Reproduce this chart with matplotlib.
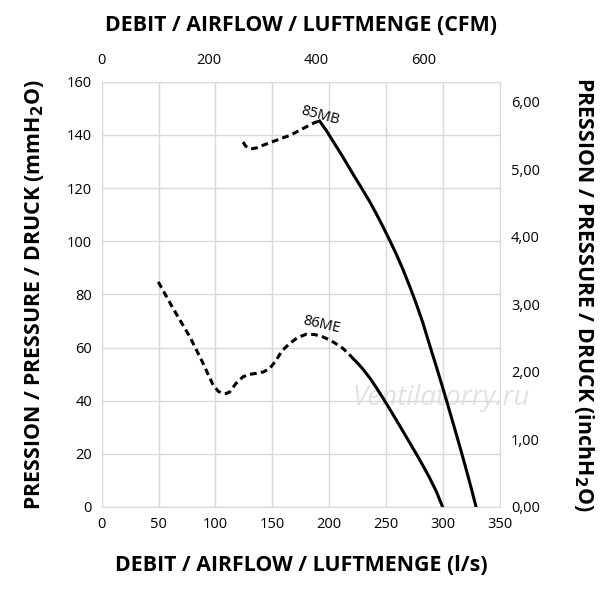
import matplotlib
matplotlib.use("Agg")
from matplotlib import pyplot as plt
from matplotlib.ticker import FuncFormatter

plt.rcParams['font.family'] = ['Open Sans', 'DejaVu Sans']

# 85MB curve (l/s, mmH2O)
mb_dash_x = [124.2, 126.5, 129.0, 132.1, 136.0, 141.8, 150.0, 158.0, 165.2, 173.0, 181.0, 187.0, 191.5]
mb_dash_y = [137.3, 135.8, 135.0, 134.8, 135.1, 136.1, 137.4, 138.7, 139.8, 141.5, 143.3, 144.6, 145.2]
mb_x = [191.5, 197.3, 204.5, 211.9, 220.5, 229.5, 235.5, 241.2, 247.0, 252.9, 258.8, 264.6, 270.4,
        276.3, 282.0, 288.0, 293.8, 299.6, 305.5, 311.4, 315.8, 320.2, 324.6, 329.0]
mb_y = [145.2, 141.7, 136.8, 131.7, 125.5, 119.2, 114.9, 110.4, 105.6, 100.5, 95.2, 89.5, 83.3,
        76.6, 69.6, 61.2, 53.2, 45.0, 36.4, 27.7, 21.1, 14.3, 7.3, 0.0]

# 86ME curve
me_dash_x = [49.7, 63.0, 77.5, 88.0, 97.9, 102.5, 106.7, 109.5, 112.5, 118.0, 124.2, 130.0, 136.0, 142.0,
             147.6, 153.0, 158.5, 165.2, 172.0, 179.8, 187.0, 194.4, 200.6, 206.0, 211.9, 217.0, 222.2]
me_dash_y = [84.7, 74.5, 64.0, 55.0, 45.9, 43.5, 42.7, 42.7, 43.3, 46.5, 49.0, 49.9, 50.3, 50.8,
             52.1, 55.0, 58.8, 61.5, 63.7, 65.0, 64.9, 64.0, 62.8, 61.4, 59.7, 57.6, 55.3]
me_x = [222.2, 226.0, 229.5, 235.5, 241.2, 247.0, 252.9, 258.8, 264.6, 270.4, 276.3, 282.0, 288.0, 294.0, 299.6]
me_y = [55.3, 53.6, 51.9, 48.6, 45.0, 41.1, 37.0, 32.8, 28.6, 24.4, 20.1, 15.8, 11.1, 5.9, 0.0]

x_ticks = [0, 50, 100, 150, 200, 250, 300, 350]
y_ticks = [0, 20, 40, 60, 80, 100, 120, 140, 160]
cfm_ticks = [0, 200, 400, 600]
inch_ticks = [0, 1, 2, 3, 4, 5, 6]

LS_TO_CFM = 2.11888
MM_TO_INCH = 1 / 25.4

fig = plt.figure(figsize=(6, 6), dpi=100)
ax = fig.add_axes([0.1695, 0.155, 0.6638, 0.7088])

dash = (0, (2.2, 1.4))
ax.plot(mb_dash_x, mb_dash_y, color='black', lw=2.2, linestyle=dash)
ax.plot(mb_x, mb_y, color='black', lw=2.2)
ax.plot(me_dash_x, me_dash_y, color='black', lw=2.2, linestyle=dash)
ax.plot(me_x, me_y, color='black', lw=2.2)

ax.set_xlim(0, 350)
ax.set_ylim(0, 160)
ax.set_xticks(x_ticks)
ax.set_yticks(y_ticks)
ax.grid(True, color='#d9d9d9', lw=1)
ax.set_axisbelow(True)
for s in ax.spines.values():
    s.set_color('#d9d9d9')
ax.tick_params(length=0, labelsize=10.5, pad=7)

ax.text(192.4, 147.3, '85MB', fontsize=10.5, rotation=-15, ha='center', va='center')
ax.text(193, 68.4, '86ME', fontsize=10.5, rotation=-13, ha='center', va='center')
ax.text(298, 41, 'Ventilatorry.ru', fontsize=20, style='italic', color='#e2e2e2',
        ha='center', va='center', zorder=0, clip_on=False)

ax.set_xlabel('DEBIT / AIRFLOW / LUFTMENGE (l/s)', fontsize=15.4, fontweight='bold', labelpad=17)
ax.set_ylabel('PRESSION / PRESSURE / DRUCK (mmH$_\\mathbf{2}$O)', fontsize=15.4, fontweight='bold', labelpad=15)

top = ax.secondary_xaxis('top', functions=(lambda v: v * LS_TO_CFM, lambda v: v / LS_TO_CFM))
top.set_xticks(cfm_ticks)
top.tick_params(length=0, labelsize=10.5, pad=10)
top.set_xlabel('DEBIT / AIRFLOW / LUFTMENGE (CFM)', fontsize=15.4, fontweight='bold', labelpad=16)
top.spines['top'].set_visible(False)

right = ax.secondary_yaxis('right', functions=(lambda v: v * MM_TO_INCH, lambda v: v / MM_TO_INCH))
right.set_yticks(inch_ticks)
right.yaxis.set_major_formatter(FuncFormatter(lambda v, p: ('%.2f' % v).replace('.', ',')))
right.tick_params(length=0, labelsize=10.5, pad=8)
right.set_ylabel('PRESSION / PRESSURE / DRUCK (inchH$_\\mathbf{2}$O)', fontsize=15.4, fontweight='bold',
                 rotation=270, labelpad=40)
right.spines['right'].set_visible(False)

fig.savefig('out.png', dpi=100)
